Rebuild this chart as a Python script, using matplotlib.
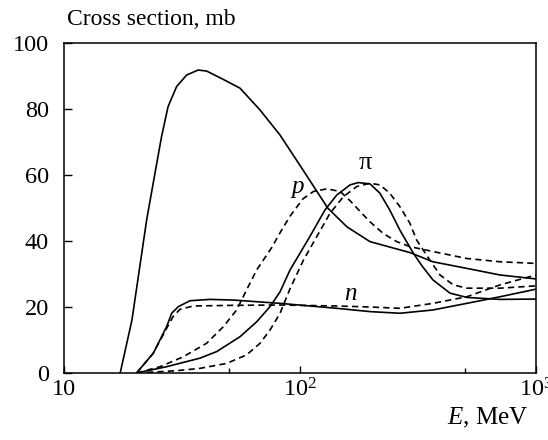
import numpy as np
import matplotlib
matplotlib.use("Agg")
import matplotlib.pyplot as plt

plt.rcParams['font.family'] = ['Liberation Serif', 'DejaVu Serif']
plt.rcParams['mathtext.fontset'] = 'custom'
plt.rcParams['mathtext.rm'] = 'Liberation Serif'
plt.rcParams['mathtext.it'] = 'Liberation Serif:italic'
plt.rcParams['lines.scale_dashes'] = False

# big solid curve (peak ~91 mb)
big_E = [17.3, 19.4, 22.4, 24.3, 25.9, 27.6, 30.0, 33.1, 37.0, 40.2, 47.2, 55.7,
         67.7, 82.3, 103, 131, 158, 198, 292, 366, 509, 704, 1000]
big_s = [0, 16, 46.4, 60.6, 71.6, 80.7, 86.8, 90.3, 91.8, 91.5, 89.0, 86.3,
         79.7, 72.1, 61.5, 50, 44.3, 39.8, 36.5, 33.7, 31.7, 29.7, 28.5]

# pi, solid
pi_E = [20.3, 27.2, 37.7, 44.4, 55.7, 65.5, 74.6, 82.3, 90.7, 110, 127.6, 143,
        163, 176.6, 198, 218, 240, 265, 302, 330, 366, 432, 509, 704, 1000]
pi_s = [0, 1.9, 4.5, 6.5, 11, 15.5, 20.1, 24.6, 31.2, 41.3, 49.4, 53.9,
        57, 57.7, 57.3, 54.5, 49.4, 43.3, 36.3, 32.3, 28.2, 24.2, 22.9, 22.3, 22.4]

# pi, dashed
pid_E = [20.3, 30, 37.7, 48.9, 59.4, 67.7, 74.6, 82.3, 90.7, 103.4, 117.7, 134,
         152.6, 174, 198, 218, 240, 265, 292, 312, 355, 392, 446, 509, 704, 1000]
pid_s = [0, 0.7, 1.4, 2.9, 5.5, 9, 13, 18.1, 25.5, 34.2, 41.3, 48.4,
         53.4, 56.5, 57.5, 57, 54.5, 50.4, 45.4, 40.3, 34.2, 29.7, 26.7, 25.7, 25.7, 26.4]

# p, dashed
p_E = [20.3, 25.5, 32.0, 40.2, 47.3, 53.9, 59.4, 65.5, 75.9, 82.3, 90.7, 103,
       114, 130, 148, 163, 180, 198, 225, 257, 292, 366, 509, 704, 1000]
p_s = [0, 1.9, 4.9, 9, 14, 19.1, 25.2, 31.2, 38.0, 42.5, 47.5, 52.8,
       55, 55.8, 55, 52.2, 48.9, 45.8, 42.3, 39.8, 38.3, 36.8, 34.7, 33.7, 33.2]

# n, solid
n_E = [20.3, 23.9, 27.2, 28.6, 30.5, 34.2, 41.6, 52.2, 82.3, 143, 198, 265,
       366, 509, 704, 1000]
n_s = [0, 6, 14, 18.1, 20.1, 21.9, 22.3, 22.1, 21.1, 19.6, 18.6, 18.1,
       19.1, 21.1, 23.1, 25.4]

# n, dashed
nd_E = [20.3, 23.9, 27.2, 29, 31, 35.3, 52.2, 82.3, 143, 198, 265, 366,
        509, 704, 1000]
nd_s = [0, 6, 13.5, 17.1, 19.3, 20.3, 20.5, 20.6, 20.3, 20.0, 19.6, 21.1,
        23.1, 26.7, 29.7]

xticks = [10, 100, 1000]
xtick_labels = ['10', '10$^2$', '10$^3$']
yticks = [0, 20, 40, 60, 80, 100]

fig = plt.figure(figsize=(5.48, 4.40), dpi=100)
ax = fig.add_axes([0.1168, 0.1523, 0.8613, 0.75])

lw = 1.2
dash = (4.5, 3)
ax.plot(big_E, big_s, color='black', lw=lw)
ax.plot(pi_E, pi_s, color='black', lw=lw)
ax.plot(pid_E, pid_s, color='black', lw=lw, dashes=dash)
ax.plot(p_E, p_s, color='black', lw=lw, dashes=dash)
ax.plot(n_E, n_s, color='black', lw=lw)
ax.plot(nd_E, nd_s, color='black', lw=lw, dashes=dash)

ax.set_xscale('log')
ax.set_xlim(10, 1000)
ax.set_ylim(0, 100)
ax.set_xticks(xticks)
ax.set_xticklabels(xtick_labels)
ax.set_xticks([50, 500], minor=True)
ax.set_xticklabels([], minor=True)
ax.set_yticks(yticks)

ax.tick_params(axis='both', which='major', direction='in', labelsize=17.5,
               width=1.0, top=False, right=False)
ax.tick_params(axis='x', which='major', length=5, pad=4)
ax.tick_params(axis='y', which='major', length=6, pad=11)
ax.tick_params(axis='x', which='minor', direction='in', length=3.5, width=1.0)
ax.tick_params(axis='y', which='minor', left=False)
for sp in ax.spines.values():
    sp.set_linewidth(1.1)

ax.text(98, 56.5, 'p', fontsize=18, style='italic', ha='center', va='center')
ax.text(190, 63.6, 'π', fontsize=19, ha='center', va='center')
ax.text(163, 24.0, 'n', fontsize=18, style='italic', ha='center', va='center')

fig.text(0.122, 0.955, 'Cross section, mb', fontsize=17, ha='left', va='center')
fig.text(0.9635, 0.05, '$\\it{E}$, MeV', fontsize=18, ha='right', va='center')

fig.savefig('out.png', dpi=100)
